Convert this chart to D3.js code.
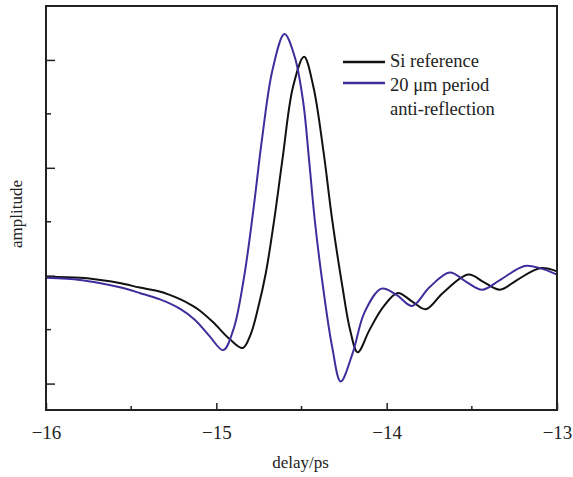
<!DOCTYPE html>
<html>
<head>
<meta charset="utf-8">
<script src="https://cdn.jsdelivr.net/npm/d3@7"></script>
<style>
body { margin: 0; background: #fff; }
text { font-family: "Liberation Serif", "Times New Roman", serif; fill: #222; }
</style>
</head>
<body>
<div id="chart"></div>
<script>
// delay (ps) and amplitude (arb. units)
var siDelay = [-16.00, -15.80, -15.68, -15.56, -15.45, -15.35, -15.27, -15.21, -15.155, -15.10, -15.02, -14.92, -14.845, -14.80, -14.755,
               -14.71, -14.66, -14.61, -14.55, -14.485, -14.43, -14.37, -14.32, -14.26, -14.215, -14.17, -14.10, -14.02, -13.935, -13.85,
               -13.77, -13.67, -13.52, -13.43, -13.335, -13.235, -13.10, -13.00];
var siAmp = [-0.01, -0.02, -0.04, -0.07, -0.11, -0.14, -0.18, -0.22, -0.265, -0.32, -0.43, -0.59, -0.67, -0.55, -0.30,
             0.02, 0.52, 1.10, 1.75, 2.03, 1.75, 1.14, 0.52, -0.10, -0.50, -0.71, -0.50, -0.29, -0.16, -0.24,
             -0.31, -0.16, 0.01, -0.06, -0.13, -0.04, 0.07, 0.04];

var arDelay = [-16.00, -15.80, -15.68, -15.56, -15.45, -15.33, -15.21, -15.125, -15.04, -14.96, -14.90, -14.84, -14.785, -14.73, -14.67,
               -14.60, -14.54, -14.49, -14.456, -14.421, -14.374, -14.32, -14.27, -14.20, -14.13, -14.03, -13.94, -13.85, -13.75, -13.63,
               -13.53, -13.44, -13.335, -13.19, -13.10, -13.00];
var arAmp = [-0.02, -0.04, -0.07, -0.11, -0.16, -0.22, -0.31, -0.41, -0.56, -0.69, -0.50, -0.04, 0.58, 1.29, 1.91,
             2.24, 2.03, 1.61, 1.08, 0.50, -0.10, -0.66, -0.98, -0.72, -0.34, -0.12, -0.18, -0.28, -0.11, 0.03,
             -0.06, -0.13, -0.04, 0.09, 0.07, 0.01];

var xTicks = [-16, -15, -14, -13];
var xMinor = [-15.5, -14.5, -13.5];
var yTicks = [-1, 0, 1, 2];
var yMinor = [-0.5, 0.5, 1.5];

var seriesNames = ["Si reference", "20 \u03bcm period", "anti-reflection"];
var colors = ["#111111", "#3c2f9c"];

var margin = {top: 6, right: 16, bottom: 67, left: 46},
    width = 573 - margin.left - margin.right,
    height = 477 - margin.top - margin.bottom;

var svg = d3.select("#chart").append("svg")
    .attr("width", 573)
    .attr("height", 477)
    .append("g")
    .attr("transform", "translate(" + margin.left + "," + margin.top + ")");

var x = d3.scaleLinear().domain([-16, -13]).range([0, width]);
var y = d3.scaleLinear().domain([-1.245, 2.5]).range([height, 0]);

//curves
var line = d3.line()
    .x(function(d) { return x(d[0]); })
    .y(function(d) { return y(d[1]); })
    .curve(d3.curveCatmullRom.alpha(0.5));

svg.append("path")
    .datum(d3.zip(siDelay, siAmp))
    .attr("fill", "none")
    .attr("stroke", colors[0])
    .attr("stroke-width", 2)
    .attr("d", line);

svg.append("path")
    .datum(d3.zip(arDelay, arAmp))
    .attr("fill", "none")
    .attr("stroke", colors[1])
    .attr("stroke-width", 2)
    .attr("d", line);

//axes with inward ticks
var xAxis = svg.append("g")
    .attr("transform", "translate(0," + height + ")")
    .call(d3.axisBottom(x).tickValues(xTicks).tickSizeInner(-7).tickSizeOuter(0)
        .tickPadding(16).tickFormat(d3.format("d")));
xAxis.append("g").selectAll("line").data(xMinor).join("line")
    .attr("x1", x).attr("x2", x).attr("y1", 0).attr("y2", -4).attr("stroke", "#222");

var yAxis = svg.append("g")
    .call(d3.axisLeft(y).tickValues(yTicks).tickSizeInner(-9).tickSizeOuter(0).tickFormat(""));
yAxis.append("g").selectAll("line").data(yMinor).join("line")
    .attr("y1", y).attr("y2", y).attr("x1", 0).attr("x2", 5).attr("stroke", "#222");

svg.selectAll(".domain").remove();
svg.selectAll(".tick line").attr("stroke", "#222");
xAxis.selectAll("line").attr("stroke-width", 1.5);
yAxis.selectAll("line").attr("stroke-width", 1.5);
xAxis.selectAll(".tick text").attr("font-size", 19).attr("fill", "#222")
    .attr("font-family", "Liberation Serif, serif");

//frame
svg.append("rect")
    .attr("width", width).attr("height", height)
    .attr("fill", "none").attr("stroke", "#222").attr("stroke-width", 2);

//axis titles
svg.append("text")
    .attr("x", width / 2 - 1).attr("y", height + 58)
    .attr("text-anchor", "middle").attr("font-size", 17)
    .text("delay/ps");

svg.append("text")
    .attr("transform", "translate(-24," + (height / 2 + 6) + ") rotate(-90)")
    .attr("text-anchor", "middle").attr("font-size", 17)
    .text("amplitude");

//legend
var legend = svg.append("g").attr("transform", "translate(297,56)");
legend.append("line").attr("x1", 0).attr("x2", 42).attr("y1", 0).attr("y2", 0)
    .attr("stroke", colors[0]).attr("stroke-width", 2.5);
legend.append("line").attr("x1", 0).attr("x2", 42).attr("y1", 21).attr("y2", 21)
    .attr("stroke", colors[1]).attr("stroke-width", 2.5);
legend.selectAll("text").data(seriesNames).join("text")
    .attr("x", 47)
    .attr("y", function(d, i) { return 5 + i * 24; })
    .attr("font-size", 18.5)
    .text(function(d) { return d; });
</script>
</body>
</html>
